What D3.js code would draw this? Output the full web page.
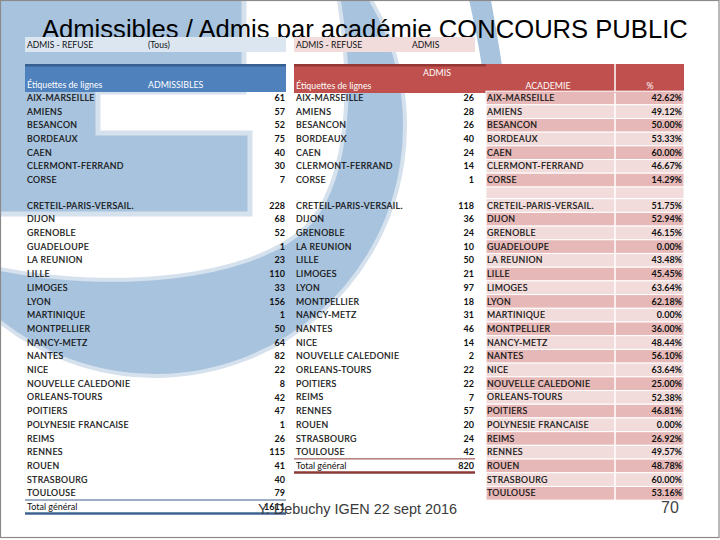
<!DOCTYPE html>
<html><head><meta charset="utf-8">
<script src="https://cdn.jsdelivr.net/npm/d3@7"></script>
<style>
html,body{margin:0;padding:0;background:#fff;}
svg{display:block;}
</style></head>
<body>
<script>
// ---------- data ----------
const title = "Admissibles / Admis par académie CONCOURS PUBLIC";
const footer = "Y. Debuchy IGEN 22 sept 2016";
const pageNumber = "70";
const filterLeft = ["ADMIS - REFUSE", "(Tous)"];
const filterRight = ["ADMIS - REFUSE", "ADMIS"];
const headLeft = ["Étiquettes de lignes", "ADMISSIBLES"];
const headMid = ["Étiquettes de lignes", "ADMIS"];
const headRight = ["ACADEMIE", "%"];
const totalLabel = "Total général";

const academiesA = ["AIX-MARSEILLE","AMIENS","BESANCON","BORDEAUX","CAEN","CLERMONT-FERRAND","CORSE"];
const admissiblesA = [61,57,52,75,40,30,7];
const admisA = [26,28,26,40,24,14,1];
const pctA = [42.62,49.12,50.00,53.33,60.00,46.67,14.29];

const academiesB = ["CRETEIL-PARIS-VERSAIL.","DIJON","GRENOBLE","GUADELOUPE","LA REUNION","LILLE","LIMOGES","LYON","MARTINIQUE","MONTPELLIER","NANCY-METZ","NANTES","NICE","NOUVELLE CALEDONIE","ORLEANS-TOURS","POITIERS","POLYNESIE FRANCAISE","REIMS","RENNES","ROUEN","STRASBOURG","TOULOUSE"];
const admissiblesB = [228,68,52,1,23,110,33,156,1,50,64,82,22,8,42,47,1,26,115,41,40,79];
const admisAcademiesB = ["CRETEIL-PARIS-VERSAIL.","DIJON","GRENOBLE","LA REUNION","LILLE","LIMOGES","LYON","MONTPELLIER","NANCY-METZ","NANTES","NICE","NOUVELLE CALEDONIE","ORLEANS-TOURS","POITIERS","REIMS","RENNES","ROUEN","STRASBOURG","TOULOUSE"];
const admisB = [118,36,24,10,50,21,97,18,31,46,14,2,22,22,7,57,20,24,42];
const pctB = [51.75,52.94,46.15,0.00,43.48,45.45,63.64,62.18,0.00,36.00,48.44,56.10,63.64,25.00,52.38,46.81,0.00,26.92,49.57,48.78,60.00,53.16];

// ---------- layout ----------
const W = 720, H = 540;
const svg = d3.select("body").append("svg").attr("width", W).attr("height", H);
const FONT = "Lato, 'Open Sans', sans-serif";
const ARIAL = "'Liberation Sans', Arial, sans-serif";
const bgBlue = "#a8c3de", pale = "#d6e1ee";

// row scales
const yA = d3.scaleLinear().domain([0, academiesA.length - 1]).range([98, 180]);
const yB = d3.scaleLinear().domain([0, academiesB.length]).range([205.5, 507]);
const rowH = yA(1) - yA(0);

// column scales
const colLeft = d3.scalePoint().domain(["label","value"]).range([27, 285]);
const colMid = d3.scalePoint().domain(["label","value"]).range([296, 474]);
const colRight = d3.scalePoint().domain(["label","value"]).range([487, 682]);

svg.append("rect").attr("width", W).attr("height", H).attr("fill", "#fff");

// ---------- background logo ----------
const bg = svg.append("g");
bg.append("path")
  .attr("d", "M-5,-5 H244 V92 H98 V133 H250 V214 H-5 Z")
  .attr("fill", bgBlue).attr("stroke", pale).attr("stroke-width", 5);
bg.append("path")
  .attr("d", "M368,-5 A250,250 0 0 1 -5,318 L-5,268 C110,292 250,280 305,228 C345,188 356,100 338,-5 Z")
  .attr("fill", bgBlue).attr("stroke", pale).attr("stroke-width", 4);
bg.append("path")
  .attr("d", "M468,-5 C478,40 486,80 488,130 L508,130 C506,80 498,40 490,-5 Z")
  .attr("fill", bgBlue);

// slide border
svg.append("rect").attr("x", 0.5).attr("y", 0.5).attr("width", W - 1.5).attr("height", H - 3)
  .attr("fill", "none").attr("stroke", "#8a8a8a").attr("stroke-width", 1.2);

// ---------- title ----------
svg.append("text").attr("x", 42).attr("y", 38).text(title)
  .attr("font-family", ARIAL).attr("font-size", 25.6).attr("fill", "#000");

// ---------- filter rows ----------
svg.append("rect").attr("x", 25).attr("y", 37).attr("width", 261).attr("height", 15).attr("fill", "#dce6f1");
svg.append("rect").attr("x", 294).attr("y", 37).attr("width", 181).attr("height", 15).attr("fill", "#f2dcdb");
const fText = (x, t) => svg.append("text").attr("x", x).attr("y", 45).attr("dy", "0.35em").text(t)
  .attr("font-family", FONT).attr("font-size", 8.6).attr("fill", "#111");
fText(27, filterLeft[0]); fText(148, filterLeft[1]);
fText(296, filterRight[0]); fText(412, filterRight[1]);

// ---------- headers ----------
svg.append("rect").attr("x", 25).attr("y", 64).attr("width", 261).attr("height", 28).attr("fill", "#4f81bd");
svg.append("rect").attr("x", 25).attr("y", 64).attr("width", 261).attr("height", 2.5).attr("fill", "#365f91");
svg.append("rect").attr("x", 294).attr("y", 64).attr("width", 390).attr("height", 29).attr("fill", "#c0504d");
svg.append("rect").attr("x", 294).attr("y", 64).attr("width", 192).attr("height", 2.5).attr("fill", "#953735");
svg.append("line").attr("x1", 615).attr("x2", 615).attr("y1", 64).attr("y2", 93).attr("stroke", "#fff").attr("stroke-width", 1.5);

const hText = (x, y, t, anchor) => svg.append("text").attr("x", x).attr("y", y).attr("dy", "0.35em").text(t)
  .attr("text-anchor", anchor || "start")
  .attr("font-family", FONT).attr("font-size", 8.8).attr("fill", "#fff");
hText(27, 85, headLeft[0]); hText(148, 85, headLeft[1]);
hText(296, 86, headMid[0]); hText(437, 73, headMid[1], "middle");
hText(548, 86, headRight[0], "middle"); hText(650, 86, headRight[1], "middle");

// page number (partly hidden behind table)
svg.append("text").attr("x", 670).attr("y", 513).attr("text-anchor", "middle").text(pageNumber)
  .attr("font-family", ARIAL).attr("font-size", 16).attr("fill", "#444");

// ---------- % table backgrounds ----------
const pctG = svg.append("g");
const pctRows = [
  ...academiesA.map((a, i) => ({a, v: pctA[i], y: yA(i), dark: i % 2 === 0})),
  ...academiesB.map((a, i) => ({a, v: pctB[i], y: yB(i), dark: i % 2 === 1}))
];
pctG.append("rect").attr("x", 486).attr("y", yA(6) + rowH / 2).attr("width", 198)
  .attr("height", yB(0) - yA(6) - rowH).attr("fill", "#f2dcdb").attr("stroke", "#fff").attr("stroke-width", 1);
pctG.selectAll("rect.r").data(pctRows).join("rect").attr("class", "r")
  .attr("x", 486).attr("y", d => d.y - rowH / 2).attr("width", 198).attr("height", rowH)
  .attr("fill", d => d.dark ? "#e6b8b7" : "#f2dcdb").attr("stroke", "#fff").attr("stroke-width", 1);
pctG.append("line").attr("x1", 615).attr("x2", 615).attr("y1", 93).attr("y2", yB(21) + rowH / 2)
  .attr("stroke", "#fff").attr("stroke-width", 1.5);

// ---------- text rows ----------
function rows(g, cols, labels, values, yScale, fmt) {
  g.selectAll(null).data(labels).join("text")
    .attr("x", cols("label")).attr("y", (d, i) => yScale(i)).attr("dy", "0.35em").text(d => d)
    .attr("font-family", FONT).attr("font-size", 8.8).attr("fill", "#111")
    .attr("stroke", "#111").attr("stroke-width", 0.2).attr("letter-spacing", 0.35);
  g.selectAll(null).data(values).join("text")
    .attr("x", cols("value")).attr("y", (d, i) => yScale(i)).attr("dy", "0.35em").attr("text-anchor", "end")
    .text(fmt).attr("font-family", FONT).attr("font-size", 9).attr("font-weight", "bold").attr("fill", "#111");
}
const tg = svg.append("g");
rows(tg, colLeft, academiesA, admissiblesA, yA, d => d);
rows(tg, colLeft, academiesB, admissiblesB, yB, d => d);
rows(tg, colMid, academiesA, admisA, yA, d => d);
rows(tg, colMid, admisAcademiesB, admisB, yB, d => d);
rows(tg, colRight, academiesA, pctA, yA, d => d3.format(".2f")(d) + "%");
rows(tg, colRight, academiesB, pctB, yB, d => d3.format(".2f")(d) + "%");

// totals
const totLeft = d3.sum(admissiblesA) + d3.sum(admissiblesB);
const totMid = d3.sum(admisA) + d3.sum(admisB);
const yTL = yB(academiesB.length), yTM = yB(admisAcademiesB.length);
svg.append("line").attr("x1", 25).attr("x2", 286).attr("y1", yTL - 7).attr("y2", yTL - 7).attr("stroke", "#3b5c8a").attr("stroke-width", 1);
svg.append("line").attr("x1", 25).attr("x2", 286).attr("y1", yTL + 6.5).attr("y2", yTL + 6.5).attr("stroke", "#3f6391").attr("stroke-width", 2.5);
svg.append("line").attr("x1", 294).attr("x2", 475).attr("y1", yTM - 7).attr("y2", yTM - 7).attr("stroke", "#8b3a38").attr("stroke-width", 1);
svg.append("line").attr("x1", 294).attr("x2", 475).attr("y1", yTM + 6.5).attr("y2", yTM + 6.5).attr("stroke", "#8b3a38").attr("stroke-width", 2.5);
const totText = (x, y, t, anchor, bold) => svg.append("text").attr("x", x).attr("y", y).attr("dy", "0.35em").text(t)
  .attr("text-anchor", anchor).attr("font-weight", bold ? "bold" : "normal")
  .attr("font-family", FONT).attr("font-size", 9).attr("fill", "#111");
totText(colLeft("label"), yTL, totalLabel, "start", false);
totText(colLeft("value"), yTL, totLeft, "end", true);
totText(colMid("label"), yTM, totalLabel, "start", false);
totText(colMid("value"), yTM, totMid, "end", true);

// footer
svg.append("text").attr("x", 258).attr("y", 514).text(footer)
  .attr("font-family", ARIAL).attr("font-size", 14.4).attr("fill", "#3a3a3a");
</script>
</body></html>
